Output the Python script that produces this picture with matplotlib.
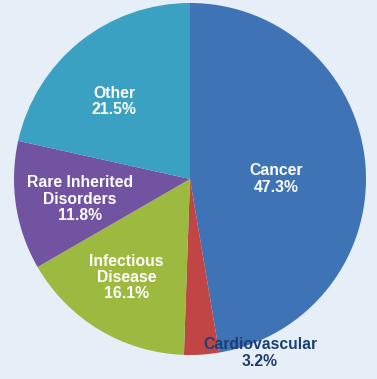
import matplotlib
matplotlib.use("Agg")
import matplotlib.pyplot as plt

categories = ["Cancer", "Cardiovascular", "Infectious\nDisease", "Rare Inherited\nDisorders", "Other"]
shares = [47.3, 3.2, 16.1, 11.8, 21.5]
colors = ["#3e74b5", "#c14545", "#9cb940", "#7253a1", "#3ba1c2"]

bg = "#e6eef7"
fig = plt.figure(figsize=(3.77, 3.79), dpi=100, facecolor=bg)
ax = fig.add_axes([0, 0, 1, 1])
ax.set_facecolor(bg)

# data units = pixels, pie centre at (190, 179) from top-left
R = 176
wedges, _ = ax.pie(shares, colors=colors, startangle=90, counterclock=False,
                   radius=R, center=(0, 0), wedgeprops=dict(linewidth=0))
ax.set_xlim(-190, 187)
ax.set_ylim(-200, 179)
ax.set_aspect("equal")
ax.axis("off")

# label positions as fraction of radius from centre
label_pos = [(0.49, 0.0), None, (-0.36, -0.56), (-0.625, -0.114), (-0.43, 0.44)]
font = dict(family=["Liberation Sans", "DejaVu Sans"], fontsize=11.3,
            fontweight="bold", ha="center", va="center", linespacing=1.1)
for name, val, pos in zip(categories, shares, label_pos):
    txt = f"{name}\n{val}%"
    if pos is None:
        ax.text(70, -174, txt, color="#1c3f73", **font)
    else:
        ax.text(pos[0] * R, pos[1] * R, txt, color="white", **font)

fig.savefig("out.png", dpi=100, facecolor=bg)
